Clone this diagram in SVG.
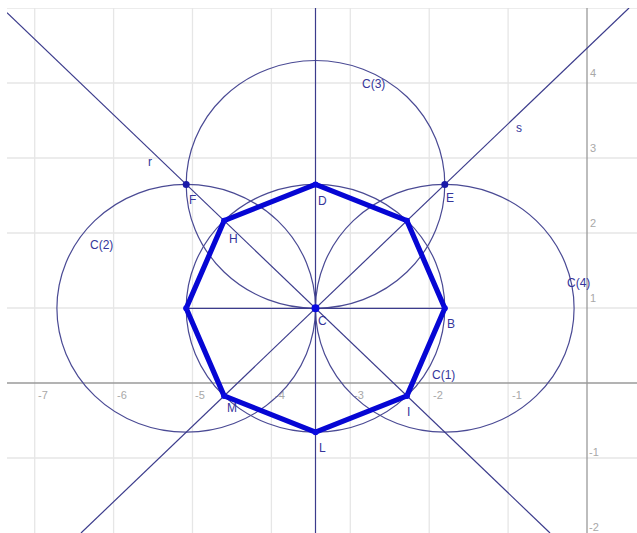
<svg xmlns="http://www.w3.org/2000/svg" width="637" height="533" viewBox="0 0 637 533">
<defs>
<style>
.grid{stroke:#e6e6e6;stroke-width:1.3;fill:none}
.axis{stroke:#9a9a9a;stroke-width:1.3;fill:none}
.tick{font-family:"Liberation Sans",Arial,sans-serif;font-size:11px;fill:#a8a8a8}
.cons{stroke:#3c3c8c;stroke-width:1.2;fill:none}
.circ{stroke:#4a4a94;stroke-width:1.2;fill:none}
.poly{stroke:#0606d4;stroke-width:5.2;fill:none;stroke-linejoin:round}
.lbl{font-family:"Liberation Sans",Arial,sans-serif;font-size:12px;fill:#35359a}
.pt{fill:#1a1aa8}
.ptc{fill:#0a0ae0}
</style>
<clipPath id="plot"><rect x="7" y="8" width="630" height="525"/></clipPath>
</defs>
<rect width="637" height="533" fill="#ffffff"/>
<g id="grid" clip-path="url(#plot)">
<path class="grid" d="M34.7 8V533M113.6 8V533M192.5 8V533M271.4 8V533M350.3 8V533M429.2 8V533M508.1 8V533M7 8H637M7 83H637M7 158H637M7 233H637M7 308H637M7 458H637"/>
<path class="axis" d="M587 8V533M7 383H637"/>
</g>
<g id="ticks" class="tick">
<text x="38" y="399">-7</text>
<text x="117" y="399">-6</text>
<text x="195" y="399">-5</text>
<text x="275" y="399">-4</text>
<text x="354" y="399">-3</text>
<text x="433" y="399">-2</text>
<text x="512" y="399">-1</text>
<text x="590" y="77">4</text>
<text x="590" y="152">3</text>
<text x="590" y="227">2</text>
<text x="590" y="302">1</text>
<text x="589" y="456">-1</text>
<text x="589" y="531">-2</text>
</g>
<g id="circles" clip-path="url(#plot)">
<ellipse id="C1" class="circ" cx="315.5" cy="308.3" rx="129.3" ry="123.9"/>
<ellipse id="C2" class="circ" cx="186.2" cy="308.3" rx="129.3" ry="123.9"/>
<ellipse id="C3" class="circ" cx="315.5" cy="184.4" rx="129.3" ry="123.9"/>
<ellipse id="C4" class="circ" cx="444.8" cy="308.3" rx="129.3" ry="123.9"/>
</g>
<g id="connectors" clip-path="url(#plot)">
<line id="line-r" class="cons" x1="7" y1="12.7" x2="550" y2="533"/>
<line id="line-s" class="cons" x1="81" y1="533" x2="629" y2="8"/>
<line id="line-v" class="cons" x1="315.5" y1="8" x2="315.5" y2="533"/>
<line id="seg-WB" class="cons" x1="186.2" y1="308.3" x2="444.8" y2="308.3"/>
</g>
<g id="octagon">
<polygon class="poly" points="315.5,184.4 406.9,220.7 444.8,308.3 406.9,395.9 315.5,432.2 224.1,395.9 186.2,308.3 224.1,220.7"/>
</g>
<g id="node-F"><circle class="pt" cx="186.2" cy="184.4" r="3.5"/><text class="lbl" x="189" y="204">F</text></g>
<g id="node-E"><circle class="pt" cx="444.8" cy="184.4" r="3.5"/><text class="lbl" x="446" y="202">E</text></g>
<g id="node-D"><circle class="ptc" cx="315.5" cy="184.4" r="3"/><text class="lbl" x="318" y="205">D</text></g>
<g id="node-H"><circle class="ptc" cx="224.1" cy="220.7" r="3"/><text class="lbl" x="229" y="243">H</text></g>
<g id="node-C"><circle class="ptc" cx="315.5" cy="308.3" r="4"/><text class="lbl" x="318" y="325">C</text></g>
<g id="node-B"><circle class="ptc" cx="444.8" cy="308.3" r="3"/><text class="lbl" x="447" y="328">B</text></g>
<g id="node-I"><circle class="ptc" cx="406.9" cy="395.9" r="3"/><text class="lbl" x="407" y="416">I</text></g>
<g id="node-L"><circle class="ptc" cx="315.5" cy="432.2" r="3"/><text class="lbl" x="319" y="452">L</text></g>
<g id="node-M"><circle class="ptc" cx="224.1" cy="395.9" r="3"/><text class="lbl" x="227" y="412">M</text></g>
<g id="node-W"><circle class="ptc" cx="186.2" cy="308.3" r="3"/></g>
<g id="node-TR"><circle class="ptc" cx="406.9" cy="220.7" r="3"/></g>
<g id="labels">
<text class="lbl" x="148" y="166">r</text>
<text class="lbl" x="516" y="132">s</text>
<text class="lbl" x="90" y="249">C(2)</text>
<text class="lbl" x="362" y="88">C(3)</text>
<text class="lbl" x="567" y="287">C(4)</text>
<text class="lbl" x="432" y="379">C(1)</text>
</g>
</svg>
